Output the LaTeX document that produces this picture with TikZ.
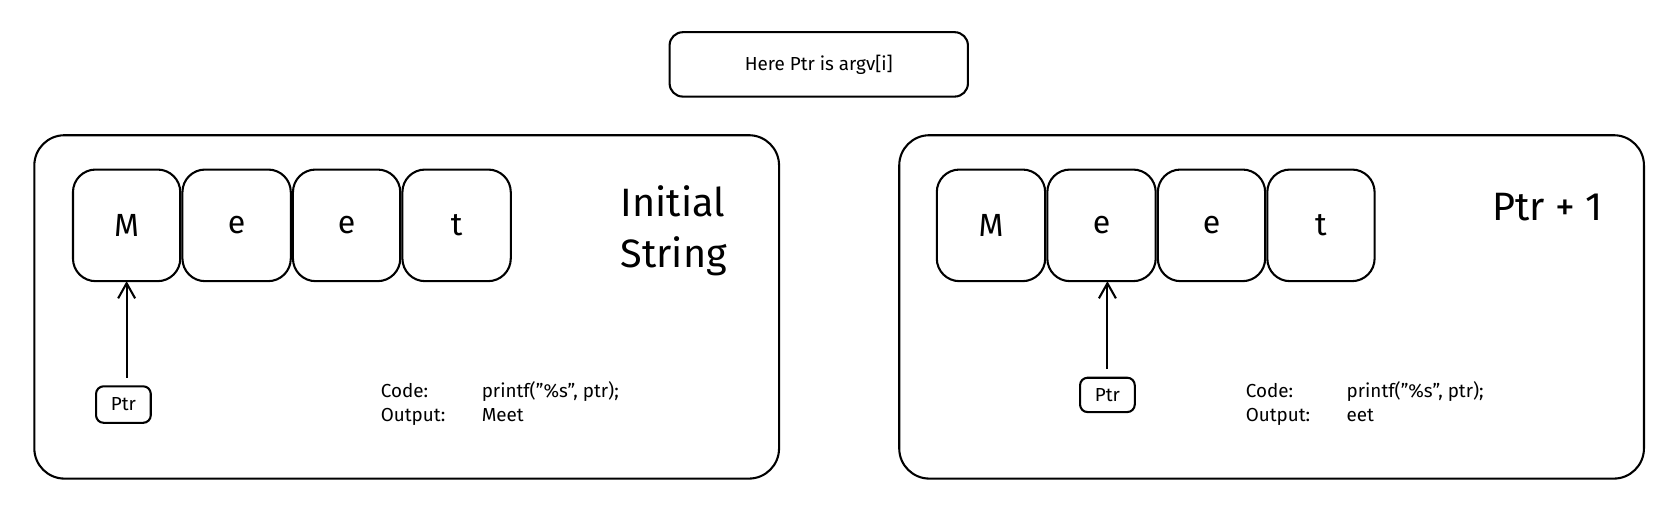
\documentclass[tikz,border=0pt]{standalone}
\usepackage{fontspec}
\setmainfont{Fira Sans}
\usetikzlibrary{arrows.meta}
\begin{document}
\begin{tikzpicture}[x=0.02cm,y=-0.02cm,line width=1.1pt,
  code/.style={anchor=base west,inner sep=0pt,font=\fontsize{10}{12}\selectfont},
  arr/.style={->,>={Straight Barb[length=8pt,width=9pt]}}]
\useasboundingbox (0,0) rectangle (1560,488);
% top label
\draw[rounded corners=7pt] (624,30) rectangle (902,90);
\node[font=\fontsize{10}{12}\selectfont] (top) at (763,60) {Here Ptr is argv[i]};
% left panel
\draw[rounded corners=16pt] (32,126) rectangle (726,446);
\foreach \n/\a/\b/\t in {l1/68/168/M,l2/170/271/e,l3/273/373/e,l4/375/476/t}{
  \draw[rounded corners=12pt] (\a,158) rectangle (\b,262);
  \node[font=\fontsize{17}{20}\selectfont] (\n) at ({(\a+\b)/2},210) {\t};
}
\coordinate (l1b) at (118,262);
\node[font=\fontsize{21}{27}\selectfont,align=left] (t1) at (628,215) {Initial\\String};
\node[draw,rounded corners=4pt,minimum width=51*0.02cm,minimum height=34*0.02cm,inner sep=0pt,font=\fontsize{10}{12}\selectfont] (p1) at (115,377) {Ptr};
\draw[arr] (118,352) -- (l1b);
\node[code] (c1) at (354,370) {Code:};
\node[code] (o1) at (354,393) {Output:};
\node[code] (cv1) at (448,370) {printf(\char34\%s\char34, ptr);};
\node[code] (ov1) at (448,393) {Meet};
% right panel
\draw[rounded corners=16pt] (838,126) rectangle (1532,446);
\foreach \n/\a/\b/\t in {r1/873/974/M,r2/976/1077/e,r3/1079/1179/e,r4/1181/1281/t}{
  \draw[rounded corners=12pt] (\a,158) rectangle (\b,262);
  \node[font=\fontsize{17}{20}\selectfont] (\n) at ({(\a+\b)/2},210) {\t};
}
\coordinate (r2b) at (1032,262);
\node[font=\fontsize{21}{27}\selectfont] (t2) at (1442,193) {Ptr + 1};
\node[draw,rounded corners=4pt,minimum width=51*0.02cm,minimum height=32*0.02cm,inner sep=0pt,font=\fontsize{10}{12}\selectfont] (p2) at (1032,368) {Ptr};
\draw[arr] (1032,344) -- (r2b);
\node[code] (c2) at (1160,370) {Code:};
\node[code] (o2) at (1160,393) {Output:};
\node[code] (cv2) at (1254,370) {printf(\char34\%s\char34, ptr);};
\node[code] (ov2) at (1254,393) {eet};
\end{tikzpicture}
\end{document}
